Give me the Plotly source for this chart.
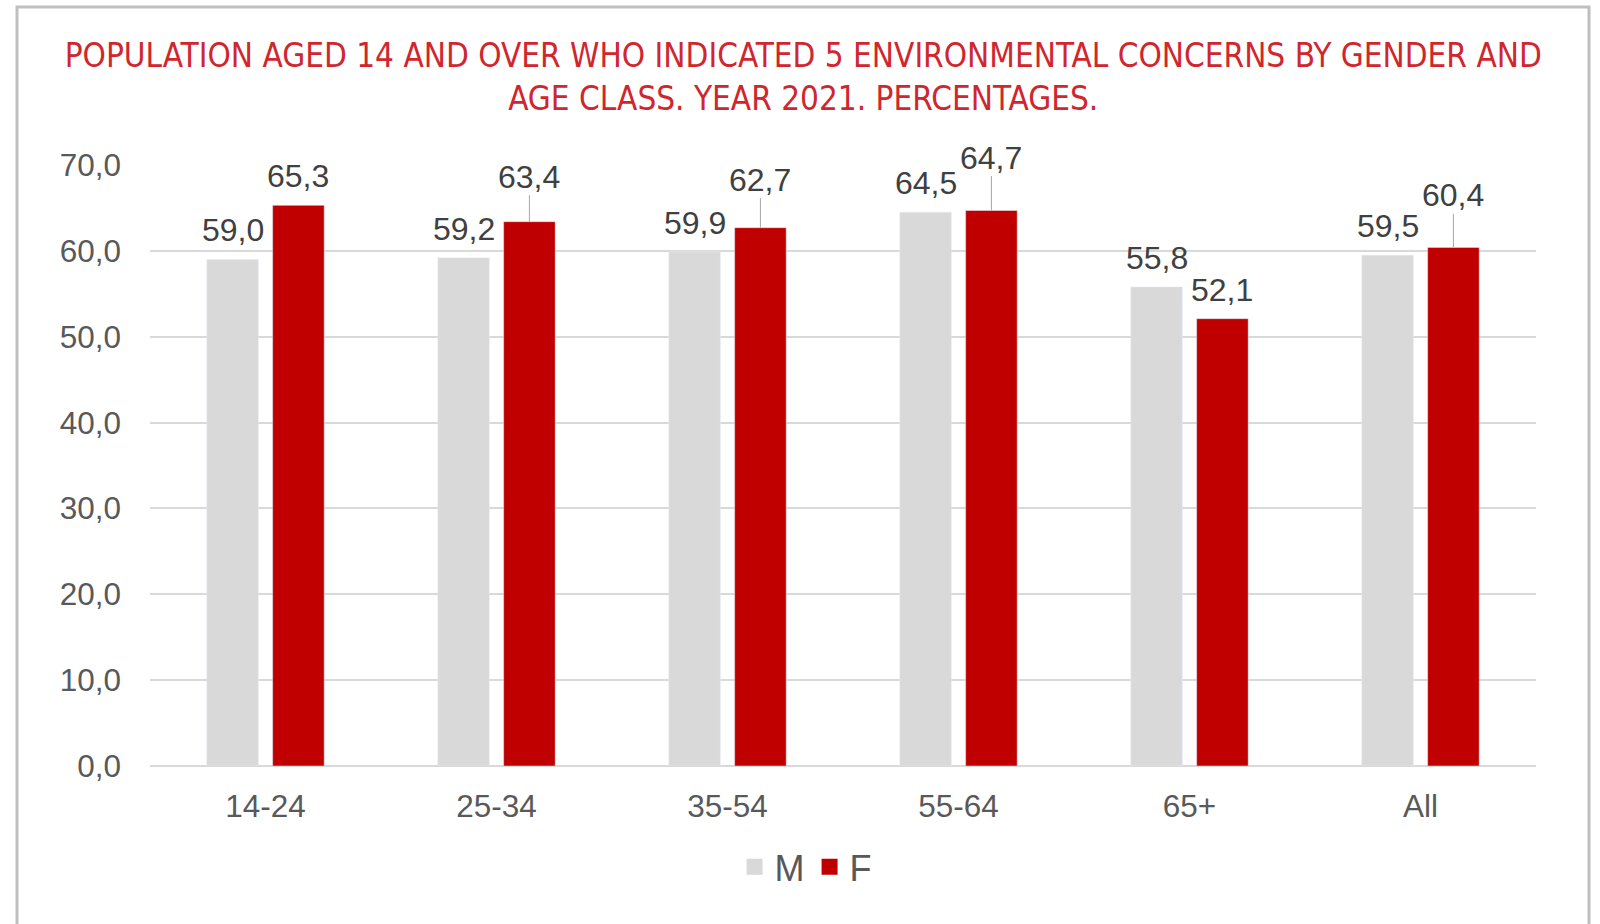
import plotly.graph_objects as go

# Survey results: share of people aged 14+ citing 5 environmental concerns
age_classes = ["14-24", "25-34", "35-54", "55-64", "65+", "All"]
male_pct = [59.0, 59.2, 59.9, 64.5, 55.8, 59.5]
female_pct = [65.3, 63.4, 62.7, 64.7, 52.1, 60.4]
y_ticks = [0, 10, 20, 30, 40, 50, 60, 70]

TITLE = ("POPULATION AGED 14 AND OVER WHO INDICATED 5 ENVIRONMENTAL CONCERNS BY GENDER AND"
         "<br>AGE CLASS. YEAR 2021. PERCENTAGES.")

M_COLOR = "#D9D9D9"
F_COLOR = "#C00000"
TEXT_DARK = "#404040"
TEXT_MID = "#595959"
FONT = "Liberation Sans, Arial, sans-serif"
NARROW = "Liberation Sans Narrow, Arial Narrow, DejaVu Sans Condensed, sans-serif"

W, H = 1600, 924
ML, MR, MT, MB = 150, 64, 165, 158
plot_w = W - ML - MR
plot_h = H - MT - MB
BARGAP, GROUPGAP = 0.43, 0.217

# horizontal offset of each bar centre from its category centre (px)
bar_offset = plot_w / len(age_classes) * (1 - BARGAP) / 4
# default distance from bar top to label centre, and the taller lifts
# used where a leader line joins the label to its bar
LABEL_LIFT = 29
F_LIFT = [29, 45, 48, 53, 29, 52]


def fmt(v):
    return f"{v:.1f}".replace(".", ",")


fig = go.Figure()
fig.add_trace(go.Bar(name="M", x=age_classes, y=male_pct, marker_color=M_COLOR,
                     showlegend=False))
fig.add_trace(go.Bar(name="F", x=age_classes, y=female_pct, marker_color=F_COLOR,
                     showlegend=False))
# legend entries with larger square swatches
fig.add_trace(go.Scatter(name="M", x=[None], y=[None], mode="markers",
                         marker=dict(symbol="square", size=16, color=M_COLOR)))
fig.add_trace(go.Scatter(name="F", x=[None], y=[None], mode="markers",
                         marker=dict(symbol="square", size=16, color=F_COLOR)))

label_font = dict(family=FONT, size=32, color=TEXT_DARK)
for cat, m, f, lift in zip(age_classes, male_pct, female_pct, F_LIFT):
    fig.add_annotation(x=cat, y=m, text=fmt(m), showarrow=False,
                       xshift=-bar_offset, yshift=LABEL_LIFT, font=label_font)
    if lift > LABEL_LIFT:
        fig.add_annotation(x=cat, y=f, text=fmt(f), showarrow=True, arrowhead=0,
                           arrowwidth=1, arrowcolor="#A6A6A6", ax=0, ay=-lift,
                           standoff=0, xshift=bar_offset, font=label_font,
                           borderpad=0)
    else:
        fig.add_annotation(x=cat, y=f, text=fmt(f), showarrow=False,
                           xshift=bar_offset, yshift=LABEL_LIFT, font=label_font)

# outer frame of the chart
fig.add_shape(type="rect", xref="paper", yref="paper",
              x0=(17 - ML) / plot_w, x1=(1589 - ML) / plot_w,
              y0=-(MB + 40) / plot_h, y1=(plot_h + MT - 7) / plot_h,
              line=dict(color="#BFBFBF", width=3), fillcolor="rgba(0,0,0,0)",
              layer="below")

fig.update_layout(
    width=W, height=H,
    margin=dict(l=ML, r=MR, t=MT, b=MB),
    paper_bgcolor="white", plot_bgcolor="white",
    separators=", ",
    barmode="group", bargap=BARGAP, bargroupgap=GROUPGAP,
    title=dict(text=TITLE, x=0.502, xanchor="center", xref="container",
               y=1 - 67 / H, yanchor="middle", yref="container",
               font=dict(family=NARROW, size=33, color="#D0262D")),
    font=dict(family=FONT, color=TEXT_MID),
    legend=dict(orientation="h", x=0.473, xanchor="center", y=-0.168,
                yanchor="middle", font=dict(family=FONT, size=36, color=TEXT_MID),
                itemsizing="trace", bgcolor="rgba(0,0,0,0)"),
    xaxis=dict(showgrid=False, showline=False, ticks="",
               tickfont=dict(family=FONT, size=31.5, color=TEXT_MID),
               ticklabelstandoff=18),
    yaxis=dict(range=[0, 70], tickvals=y_ticks, tickformat=".1f",
               showgrid=True, gridcolor="#D9D9D9", gridwidth=1.5,
               zeroline=True, zerolinecolor="#D9D9D9", zerolinewidth=2,
               showline=False, ticks="",
               tickfont=dict(family=FONT, size=31.5, color=TEXT_MID),
               ticklabelstandoff=28),
)

fig.write_html("out.html")
